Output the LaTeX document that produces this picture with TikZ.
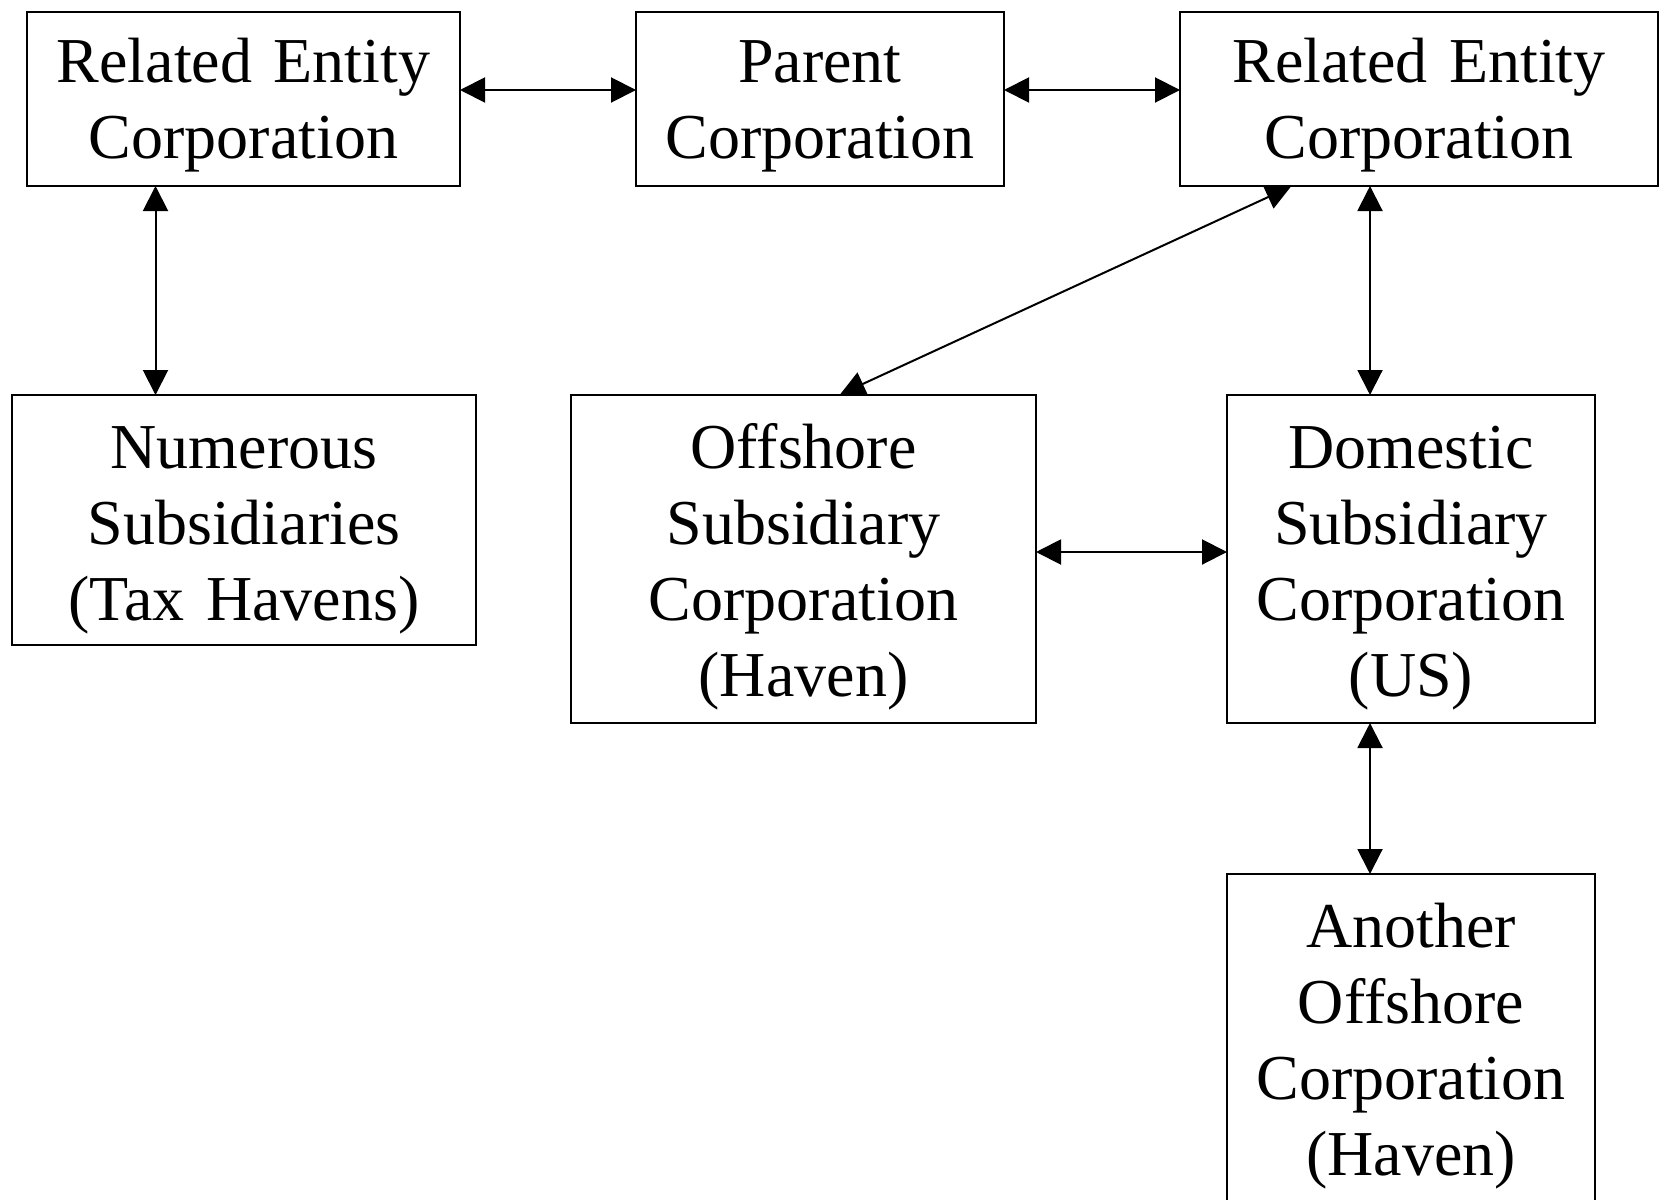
\documentclass[tikz,border=0pt]{standalone}
\usepackage{fontspec}
\setmainfont[WordSpace=0.85]{Liberation Serif}
\usetikzlibrary{arrows.meta}
\begin{document}
\begin{tikzpicture}[x=1pt,y=-1pt,
  boxnode/.style={draw=black, line width=2pt, anchor=north west, inner sep=0pt,
    align=center, font=\fontsize{64}{76}\selectfont, text height=73pt},
  toprow/.style={text height=70pt, minimum height=174pt, text depth=104pt},
  conn/.style={line width=2pt, {Triangle[length=25pt,width=25pt]}-{Triangle[length=25pt,width=25pt]}, shorten <=-1pt, shorten >=-1pt}]
\useasboundingbox (0,0) rectangle (1659,1199);
\clip (0,0) rectangle (1659,1199);
\node[boxnode, toprow, text width=433pt, minimum width=433pt] (b1) at (26,11) {Related Entity\\Corporation};
\node[boxnode, toprow, text width=368pt, minimum width=368pt] (b2) at (635,11) {Parent\\Corporation};
\node[boxnode, toprow, text width=478pt, minimum width=478pt] (b3) at (1179,11) {Related Entity\\Corporation};
\node[boxnode, text width=464pt, minimum width=464pt, minimum height=250pt, text depth=177pt] (b4) at (11,394) {Numerous\\Subsidiaries\\(Tax Havens)};
\node[boxnode, text width=465pt, minimum width=465pt, minimum height=328pt, text depth=255pt] (b5) at (570,394) {Offshore\\Subsidiary\\Corporation\\(Haven)};
\node[boxnode, text width=368pt, minimum width=368pt, minimum height=328pt, text depth=255pt] (b6) at (1226,394) {Domestic\\Subsidiary\\Corporation\\(US)};
\node[boxnode, text width=368pt, minimum width=368pt, minimum height=360pt, text depth=287pt] (b7) at (1226,873) {Another\\Offshore\\Corporation\\(Haven)};
\draw[conn] (b1.east |- 0,90) -- (b2.west |- 0,90);
\draw[conn] (b2.east |- 0,90) -- (b3.west |- 0,90);
\draw[conn] (b1.south -| 155.5,0) -- (b4.north -| 155.5,0);
\draw[conn] (b3.south -| 1370,0) -- (b6.north -| 1370,0);
\draw[conn] (b5.east |- 0,552) -- (b6.west |- 0,552);
\draw[conn] (b6.south -| 1370,0) -- (b7.north -| 1370,0);
\draw[conn] (b5.north -| 841,0) -- (b3.south -| 1290,0);
\end{tikzpicture}
\end{document}
